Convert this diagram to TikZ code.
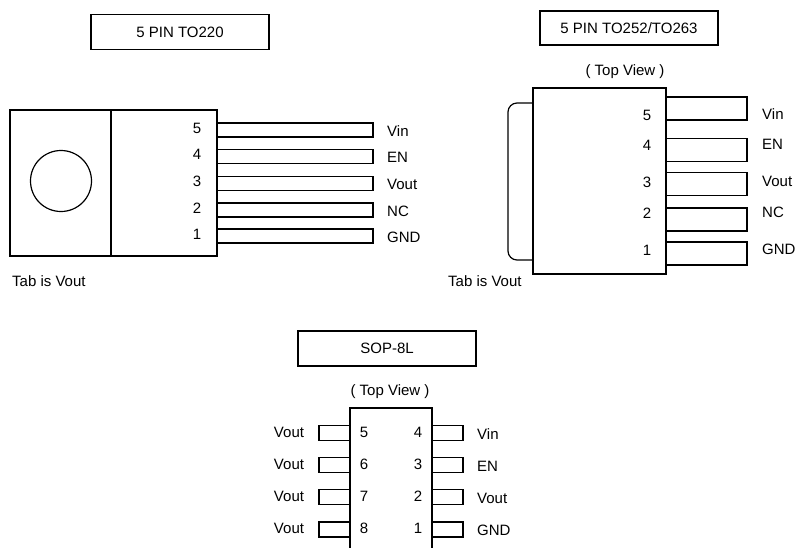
\documentclass[tikz,border=0pt]{standalone}
\usepackage{fontspec}
\setmainfont{Liberation Sans}
\usetikzlibrary{positioning}
\tikzset{
    every node/.style={font=\fontsize{15}{18}\selectfont, inner sep=0pt}, % Arial-like labels
    title/.style={draw, line width=1.2pt, minimum width=178pt, minimum height=35pt}, % package name boxes
    pin/.style={anchor=center}, % pin numbers
    sig/.style={anchor=west}, % signal names
}
\tikzstyle{pkg} = [draw, line width=1.2pt]
\tikzstyle{lead} = [draw, line width=1.2pt]

\begin{document}
\begin{tikzpicture}[x=1pt, y=-1pt]
    \useasboundingbox (0,0) rectangle (795,547);

    % 5 pin TO220
    \node[title] (t220) at (180,32) {5 PIN TO220};
    \draw[pkg] (10,110) rectangle (217,256);
    \draw[pkg] (111,110) -- (111,256);
    \draw[pkg] (61,181) circle (30.5);
    \foreach \p/\y/\name in {5/130/Vin, 4/156.5/EN, 3/183.5/Vout, 2/210/NC, 1/236/GND} {
        \draw[lead] (217,\y-7) rectangle (373,\y+7);
        \node[pin] (n220-\p) at (197,\y-2) {\p};
        \node[sig] (s220-\p) at (387,\y+1) {\name};
    }
    \node[anchor=west] (tab220) at (12,281) {Tab is Vout};

    % 5 pin TO252/TO263
    \node[title, minimum height=34pt] (t252) at (629,28) {5 PIN TO252/TO263};
    \node (top252) at (625,72) {( Top View )};
    \draw[pkg] (533,88) rectangle (666,274);
    \draw[pkg, rounded corners=9pt] (533,103) -- (508,103) -- (508,260) -- (533,260);
    \foreach \p/\y/\n/\s in {5/108.5/115/Vin, 4/150/145/EN, 3/184/182/Vout, 2/219.5/213/NC, 1/253.5/250/GND} {
        \draw[lead] (666,\y-11.5) rectangle (747,\y+11.5);
        \node[pin] (n252-\p) at (647,\n) {\p};
        \node[sig] (s252-\p) at (762,\n-1) {\s};
    }
    \node[anchor=west] (tab252) at (448,281) {Tab is Vout};

    % SOP-8L
    \node[title] (tsop) at (387,348.5) {SOP-8L};
    \node (topsop) at (390,392) {( Top View )};
    \draw[pkg] (350,549) -- (350,408) -- (432,408) -- (432,549);
    \foreach \l/\r/\y/\s in {5/4/433/Vin, 6/3/465/EN, 7/2/497/Vout, 8/1/529.5/GND} {
        \draw[lead] (319,\y-7.5) rectangle (350,\y+7.5);
        \draw[lead] (432,\y-7.5) rectangle (463,\y+7.5);
        \node[pin] (nsop-\l) at (364,\y-1) {\l};
        \node[pin] (nsop-\r) at (418,\y-1) {\r};
        \node[anchor=center] (vsop-\l) at (289,\y-1) {Vout};
        \node[sig] (ssop-\r) at (477,\y+1) {\s};
    }
\end{tikzpicture}
\end{document}
